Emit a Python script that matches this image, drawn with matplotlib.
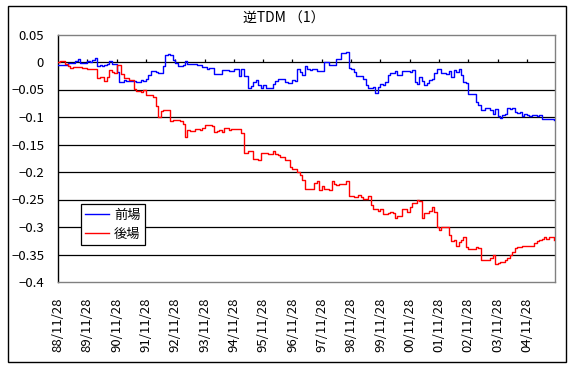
"""逆TDM (1) : 前場 / 後場 の累積推移チャート."""

import matplotlib

matplotlib.use("Agg")
import matplotlib.pyplot as plt
import numpy as np
import pandas as pd
from matplotlib.patches import Rectangle

plt.rcParams["font.family"] = ["Noto Sans CJK JP", "DejaVu Sans"]

TITLE = "逆TDM （1）"
START = "1988-11-28"
SERIES_NAMES = ["前場", "後場"]

# 月次の値 (1988/11 〜 2005/10), 1 行 = 1 年分
zenba = [
    -0.005, -0.005, -0.005, -0.005, -0.002, -0.002, -0.002, 0.002, 0.005, -0.001, -0.002, -0.002,
    0.001, 0.000, 0.004, 0.007, -0.008, -0.006, -0.008, -0.005, -0.004, 0.001, -0.004, -0.004,
    -0.018, -0.037, -0.037, -0.032, -0.035, -0.035, -0.035, -0.035, -0.036, -0.036, -0.033, -0.035,
    -0.031, -0.023, -0.017, -0.017, -0.019, -0.020, -0.020, -0.008, 0.012, 0.015, 0.013, 0.004,
    -0.002, -0.008, -0.008, -0.006, 0.001, -0.004, -0.004, -0.003, -0.003, -0.006, -0.006, -0.009,
    -0.009, -0.012, -0.010, -0.010, -0.021, -0.021, -0.022, -0.015, -0.014, -0.014, -0.016, -0.016,
    -0.012, -0.013, -0.025, -0.012, -0.025, -0.025, -0.048, -0.044, -0.037, -0.033, -0.041, -0.048,
    -0.042, -0.048, -0.047, -0.048, -0.040, -0.035, -0.030, -0.030, -0.031, -0.036, -0.039, -0.039,
    -0.033, -0.035, -0.013, -0.018, -0.024, -0.007, -0.012, -0.014, -0.013, -0.013, -0.016, -0.016,
    -0.016, 0.000, 0.000, -0.006, -0.005, -0.005, 0.005, 0.005, 0.016, 0.016, 0.019, -0.011,
    -0.012, -0.019, -0.026, -0.025, -0.025, -0.031, -0.042, -0.047, -0.048, -0.046, -0.056, -0.046,
    -0.040, -0.042, -0.036, -0.023, -0.020, -0.020, -0.017, -0.024, -0.024, -0.016, -0.017, -0.017,
    -0.018, -0.015, -0.037, -0.040, -0.027, -0.035, -0.041, -0.038, -0.032, -0.030, -0.020, -0.013,
    -0.013, -0.020, -0.020, -0.022, -0.016, -0.027, -0.015, -0.019, -0.012, -0.024, -0.037, -0.039,
    -0.059, -0.059, -0.059, -0.072, -0.079, -0.087, -0.088, -0.084, -0.084, -0.087, -0.094, -0.085,
    -0.099, -0.101, -0.096, -0.095, -0.084, -0.085, -0.084, -0.090, -0.092, -0.090, -0.098, -0.094,
    -0.096, -0.098, -0.097, -0.097, -0.099, -0.096, -0.103, -0.104, -0.104, -0.104, -0.104, -0.105,
]

goba = [
    0.000, 0.001, 0.002, -0.004, -0.008, -0.010, -0.009, -0.009, -0.009, -0.009, -0.011, -0.011,
    -0.013, -0.013, -0.013, -0.013, -0.029, -0.027, -0.027, -0.035, -0.027, -0.015, -0.019, -0.020,
    -0.005, -0.005, -0.022, -0.029, -0.029, -0.033, -0.033, -0.049, -0.053, -0.053, -0.055, -0.050,
    -0.060, -0.060, -0.060, -0.063, -0.080, -0.100, -0.089, -0.088, -0.088, -0.088, -0.108, -0.106,
    -0.106, -0.106, -0.108, -0.112, -0.136, -0.124, -0.125, -0.125, -0.122, -0.121, -0.124, -0.120,
    -0.115, -0.115, -0.115, -0.116, -0.127, -0.125, -0.124, -0.127, -0.120, -0.120, -0.124, -0.121,
    -0.121, -0.121, -0.121, -0.129, -0.165, -0.165, -0.162, -0.162, -0.176, -0.176, -0.178, -0.165,
    -0.165, -0.165, -0.168, -0.168, -0.162, -0.167, -0.169, -0.172, -0.173, -0.178, -0.178, -0.191,
    -0.195, -0.195, -0.200, -0.206, -0.215, -0.230, -0.230, -0.230, -0.230, -0.220, -0.216, -0.232,
    -0.226, -0.230, -0.230, -0.232, -0.216, -0.222, -0.224, -0.222, -0.221, -0.221, -0.216, -0.244,
    -0.244, -0.246, -0.246, -0.241, -0.246, -0.249, -0.249, -0.243, -0.260, -0.268, -0.268, -0.270,
    -0.268, -0.277, -0.277, -0.275, -0.273, -0.275, -0.283, -0.280, -0.280, -0.267, -0.268, -0.273,
    -0.264, -0.257, -0.257, -0.250, -0.252, -0.283, -0.275, -0.274, -0.271, -0.263, -0.273, -0.300,
    -0.305, -0.300, -0.300, -0.300, -0.314, -0.325, -0.324, -0.334, -0.328, -0.323, -0.319, -0.336,
    -0.340, -0.340, -0.340, -0.336, -0.339, -0.360, -0.360, -0.360, -0.360, -0.357, -0.351, -0.368,
    -0.365, -0.363, -0.363, -0.360, -0.357, -0.350, -0.345, -0.339, -0.337, -0.337, -0.334, -0.334,
    -0.334, -0.334, -0.334, -0.329, -0.326, -0.323, -0.321, -0.319, -0.321, -0.319, -0.319, -0.324,
]

y_ticks = [0.05, 0, -0.05, -0.1, -0.15, -0.2, -0.25, -0.3, -0.35, -0.4]


def fmt_y(v):
    s = f"{v:g}"
    return s.replace("-", "\u2212")


dates = pd.date_range(START, periods=len(zenba), freq=pd.DateOffset(months=1))
x = np.arange(len(zenba))
tick_idx = x[::12]
tick_labels = [d.strftime("%y/%m/%d") for d in dates[::12]]

fig = plt.figure(figsize=(5.8, 3.71), dpi=100)
ax = fig.add_axes([58 / 580, 1 - 282 / 371, (555 - 58) / 580, (282 - 34.5) / 371])

ax.step(x, zenba, where="post", color="#0000FF", lw=1.0, label=SERIES_NAMES[0], zorder=3)
ax.step(x, goba, where="post", color="#FF0000", lw=1.0, label=SERIES_NAMES[1], zorder=3)

ax.set_xlim(0, len(x) - 0.5)
ax.set_ylim(-0.4, 0.05)

# 横グリッド
for v in y_ticks[1:-1]:
    ax.axhline(v, color="black", lw=0.9, zorder=1)
# 0 の線上の目盛り
ax.vlines(tick_idx[1:], 0, 0.0055, color="black", lw=0.9, zorder=2)

ax.set_yticks(y_ticks)
ax.set_yticklabels([fmt_y(v) for v in y_ticks], fontsize=9.5)
ax.set_xticks(tick_idx)
ax.set_xticklabels(tick_labels, rotation=90, fontsize=9.5)
ax.tick_params(axis="both", length=0)
ax.tick_params(axis="y", pad=10)
ax.tick_params(axis="x", pad=11)

for side in ["top", "right", "bottom"]:
    ax.spines[side].set_color("#808080")
    ax.spines[side].set_linewidth(1.0)
ax.spines["left"].set_color("black")
ax.spines["left"].set_linewidth(1.0)

leg = ax.legend(
    loc="upper left",
    bbox_to_anchor=(0.046, 0.315),
    borderaxespad=0,
    fancybox=False,
    framealpha=1,
    edgecolor="black",
    fontsize=9.5,
    handlelength=1.8,
    handletextpad=0.35,
    labelspacing=0.45,
    borderpad=0.35,
)
leg.get_frame().set_linewidth(0.9)

fig.text(0.49, 1 - 18.5 / 371, TITLE, ha="center", va="center", fontsize=10)

fig.patches.append(
    Rectangle(
        (8 / 580, 1 - 362 / 371),
        (566 - 8) / 580,
        (362 - 6) / 371,
        transform=fig.transFigure,
        fill=False,
        edgecolor="black",
        lw=1.0,
    )
)

fig.savefig("out.png", dpi=100)
